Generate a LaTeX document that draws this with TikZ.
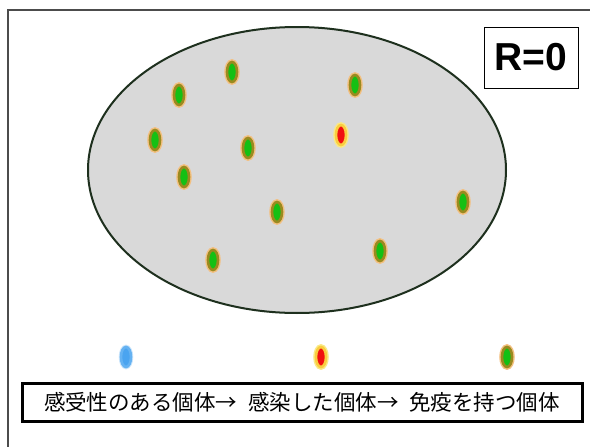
\documentclass[tikz,border=0pt]{standalone}
\usepackage{fontspec}
\setmainfont{Liberation Sans}
\newfontfamily\cjk{Noto Sans CJK JP}
\usetikzlibrary{shapes.geometric}
\definecolor{halo}{HTML}{F0B060}
\definecolor{ring}{HTML}{9A8A20}
\definecolor{gfill}{HTML}{14C014}
\definecolor{rfill}{HTML}{F01010}
\definecolor{yhalo}{HTML}{F8E050}
\definecolor{bfill}{HTML}{4AA4F0}
\definecolor{bhalo}{HTML}{A8D4F8}
\definecolor{pop}{HTML}{D9D9D9}
\definecolor{popline}{HTML}{1E301E}
\tikzset{
  dotbase/.style={ellipse, minimum width=10pt, minimum height=20pt, inner sep=0pt, line width=2.6pt},
  gdot/.style={dotbase, fill=gfill, draw=ring, preaction={draw=halo!80, line width=5.5pt}},
  rdot/.style={dotbase, fill=rfill, draw=yhalo!80!orange, preaction={draw=yhalo!70, line width=5.5pt}},
  bdot/.style={dotbase, fill=bfill, draw=bfill!85!white, preaction={draw=bhalo!60, line width=4.5pt}},
  framebox/.style={draw=black, fill=white},
}
\begin{document}
\begin{tikzpicture}[x=1pt, y=-1pt]
\useasboundingbox[fill=white] (0,0) rectangle (590,447);
% frame (top and left only)
\draw[gray!60!black, line width=1.4pt] (8,447) coordinate (fbl) -- (8,10) coordinate (ftl) -- (590,10) coordinate (ftr);
% population
\node[ellipse, draw=popline, fill=pop, line width=2pt, minimum width=418pt, minimum height=286pt, inner sep=0pt] (popu) at (297,170) {};
% R=0
\node[framebox, line width=1pt, minimum width=94pt, minimum height=61pt, inner sep=0pt, font=\bfseries\fontsize{39}{39}\selectfont] (rbox) at (531,57.5) {R=0};
% individuals
\node[gdot] (g1) at (232,72) {};
\node[gdot] (g2) at (179,95) {};
\node[gdot] (g3) at (355,85) {};
\node[gdot] (g4) at (155,140) {};
\node[gdot] (g5) at (248,148) {};
\node[rdot] (r1) at (341,135) {};
\node[gdot] (g6) at (184,177) {};
\node[gdot] (g7) at (277,212) {};
\node[gdot] (g8) at (463,202) {};
\node[gdot] (g9) at (213,260) {};
\node[gdot] (g10) at (380,251) {};
% legend dots
\node[bdot] (lb) at (126,357) {};
\node[rdot] (lr) at (321,357) {};
\node[gdot] (lg) at (507,357) {};
% legend box
\node[framebox, line width=3pt, minimum width=560pt, minimum height=38pt, inner sep=0pt, font=\cjk\fontsize{21.5}{22}\selectfont] (legend) at (302,402) {感受性のある個体→\hspace{0.5em}感染した個体→\hspace{0.5em}免疫を持つ個体};
\end{tikzpicture}
\end{document}
